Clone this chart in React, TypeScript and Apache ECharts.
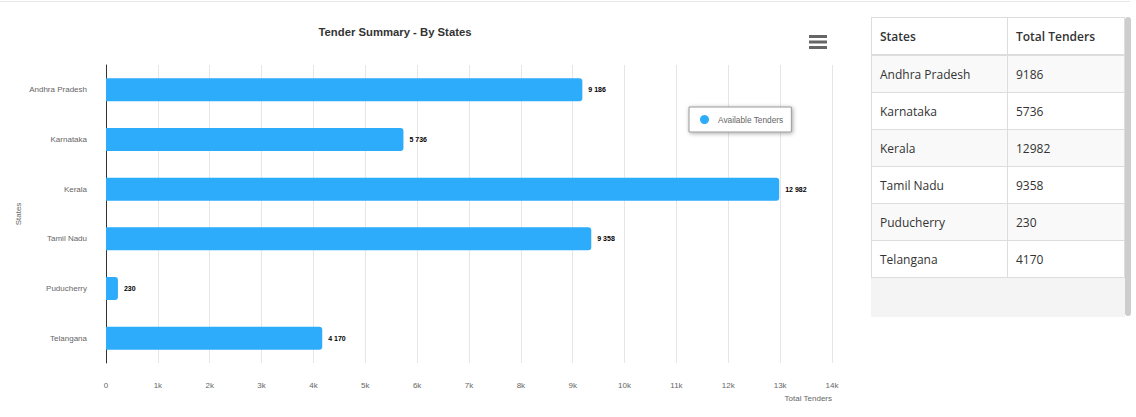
import React, { useEffect, useRef } from "react";
import * as echarts from "echarts";

const states = ["Andhra Pradesh", "Karnataka", "Kerala", "Tamil Nadu", "Puducherry", "Telangana"];
const totalTenders = [9186, 5736, 12982, 9358, 230, 4170];
const seriesName = "Available Tenders";
const chartTitle = "Tender Summary - By States";
const tableHeaders = ["States", "Total Tenders"];

const fmtSpace = (v: number) => String(v).replace(/\B(?=(\d{3})+(?!\d))/g, " ");

function Chart() {
  const ref = useRef<HTMLDivElement>(null);
  useEffect(() => {
    if (!ref.current) return;
    const chart = echarts.init(ref.current, undefined, { renderer: "svg" });
    chart.setOption({
      animation: false,
      textStyle: { fontFamily: "Liberation Sans, Arial, sans-serif" },
      title: {
        text: chartTitle,
        left: 390,
        top: 21,
        textAlign: "center",
        textStyle: { fontSize: 11.3, fontWeight: "bold", color: "#333" },
      },
      legend: {
        left: 689,
        top: 107,
        orient: "vertical",
        padding: [8, 8, 8, 11],
        itemWidth: 9,
        itemHeight: 9,
        itemGap: 4,
        icon: "circle",
        backgroundColor: "#fff",
        borderColor: "#999",
        borderWidth: 1,
        shadowBlur: 4,
        shadowColor: "rgba(0,0,0,0.35)",
        shadowOffsetX: 1,
        shadowOffsetY: 1,
        textStyle: { fontSize: 8.3, color: "#666", padding: [1, 0, 0, 4] },
        data: [seriesName],
      },
      grid: { left: 106, top: 65, width: 726, height: 298, containLabel: false },
      xAxis: {
        type: "value",
        min: 0,
        max: 14000,
        interval: 1000,
        name: "Total Tenders",
        nameLocation: "end",
        nameGap: 0,
        nameTextStyle: { fontSize: 8, color: "#666", align: "right", verticalAlign: "top", padding: [31, 0, 0, 0] },
        axisLine: { show: false },
        axisTick: { show: false },
        axisLabel: {
          fontSize: 8,
          color: "#666",
          margin: 18,
          formatter: (v: number) => (v === 0 ? "0" : v / 1000 + "k"),
        },
        splitLine: { show: true, lineStyle: { color: "#e6e6e6", width: 1 } },
      },
      yAxis: {
        type: "category",
        inverse: true,
        data: states,
        name: "States",
        nameLocation: "middle",
        nameRotate: 90,
        nameGap: 84,
        nameMoveOverlap: false,
        nameTextStyle: { fontSize: 8, color: "#666" },
        axisLine: { show: true, lineStyle: { color: "#333", width: 1 } },
        axisTick: { show: false },
        axisLabel: { fontSize: 8, color: "#666", margin: 19 },
        splitLine: { show: false },
      },
      series: [
        {
          name: seriesName,
          type: "bar",
          data: totalTenders,
          barWidth: 23,
          itemStyle: { color: "#2eacfc", borderRadius: [0, 3, 3, 0] },
          label: {
            show: true,
            position: "right",
            distance: 6,
            fontSize: 7,
            fontWeight: "bold",
            color: "#000",
            formatter: (p: any) => fmtSpace(p.value),
          },
        },
      ],
      graphic: [
        { type: "rect", shape: { x: 809, y: 35, width: 18, height: 3 }, style: { fill: "#666" } },
        { type: "rect", shape: { x: 809, y: 40.5, width: 18, height: 3 }, style: { fill: "#666" } },
        { type: "rect", shape: { x: 809, y: 46, width: 18, height: 3 }, style: { fill: "#666" } },
      ],
    });
    return () => chart.dispose();
  }, []);
  return <div ref={ref} style={{ position: "absolute", left: 0, top: 0, width: 860, height: 417 }} />;
}

function Table() {
  const cell: React.CSSProperties = {
    border: "1px solid #ddd",
    padding: "0 0 0 8px",
    height: 36,
    textAlign: "left",
    verticalAlign: "middle",
  };
  return (
    <div style={{ position: "absolute", left: 871, top: 17, width: 254, height: 300, background: "#f4f4f4" }}>
      <table
        style={{
          borderCollapse: "collapse",
          width: 254,
          fontFamily: "'Open Sans', sans-serif",
          fontSize: 12,
          color: "#333",
          background: "#fff",
        }}
      >
        <thead>
          <tr>
            <th style={{ ...cell, width: 127, borderBottom: "2px solid #ddd", fontWeight: 600 }}>{tableHeaders[0]}</th>
            <th style={{ ...cell, borderBottom: "2px solid #ddd", fontWeight: 600 }}>{tableHeaders[1]}</th>
          </tr>
        </thead>
        <tbody>
          {states.map((s, i) => (
            <tr key={s} style={{ background: i % 2 === 0 ? "#f9f9f9" : "#fff" }}>
              <td style={cell}>{s}</td>
              <td style={cell}>{totalTenders[i]}</td>
            </tr>
          ))}
        </tbody>
      </table>
    </div>
  );
}

export default function App() {
  return (
    <div style={{ position: "absolute", left: 0, top: 0, width: 1136, height: 417, background: "#fff", overflow: "hidden" }}>
      <div style={{ position: "absolute", left: 0, top: 1, width: 1130, height: 1, background: "#e6e6e6" }} />
      <Chart />
      <Table />
      <div style={{ position: "absolute", left: 1125, top: 17, width: 6, height: 299, background: "#cdcdcd", borderRadius: 3 }} />
    </div>
  );
}
